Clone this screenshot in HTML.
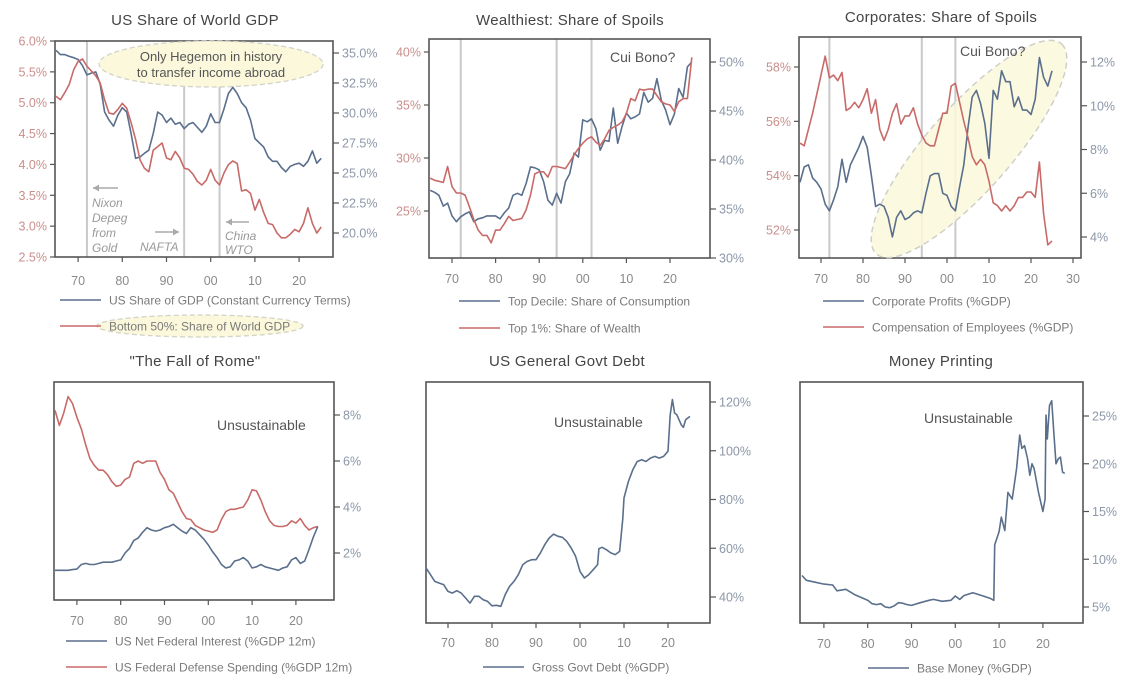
<!DOCTYPE html>
<html><head><meta charset="utf-8"><style>
html,body{margin:0;padding:0;background:#fff;}
svg{display:block;font-family:"Liberation Sans","DejaVu Sans",sans-serif;}
</style></head><body>
<svg id="chart" width="1138" height="690" viewBox="0 0 1138 690" xmlns="http://www.w3.org/2000/svg">
<g id="layer"></g>
</svg>
<script>
const yearsAnnual = [1965,1966,1967,1968,1969,1970,1971,1972,1973,1974,1975,1976,1977,1978,1979,1980,1981,1982,1983,1984,1985,1986,1987,1988,1989,1990,1991,1992,1993,1994,1995,1996,1997,1998,1999,2000,2001,2002,2003,2004,2005,2006,2007,2008,2009,2010,2011,2012,2013,2014,2015,2016,2017,2018,2019,2020,2021,2022,2023,2024,2025];
// Panel 1
const usShareGdp = [5.85,5.78,5.78,5.75,5.73,5.7,5.6,5.45,5.48,5.5,5.3,4.85,4.72,4.62,4.8,4.92,4.85,4.5,4.1,4.12,4.18,4.23,4.5,4.85,4.8,4.68,4.75,4.65,4.68,4.58,4.65,4.68,4.6,4.52,4.62,4.82,4.68,4.68,4.9,5.15,5.25,5.15,5.0,4.92,4.72,4.42,4.35,4.28,4.12,4.05,4.05,3.95,3.88,3.97,4.0,4.02,3.97,4.05,4.22,4.02,4.1];
const bottom50Share = [31.4,31.1,31.7,32.4,33.6,34.3,34.5,33.9,33.5,33.1,32.5,31.1,30.0,29.9,30.3,30.8,30.4,29.2,27.8,26.1,25.4,25.1,26.9,27.2,27.5,26.25,26.1,26.8,26.25,25.4,25.3,24.9,24.3,24.0,24.4,25.3,24.4,24.0,25.0,25.7,26.0,25.8,23.5,23.6,23.3,21.9,22.8,21.7,20.8,20.7,20.0,19.6,19.6,19.9,20.3,20.1,20.8,22.1,20.8,20.0,20.5];
// Panel 2
const topDecileConsumption = [36.9,36.7,36.4,35.3,35.6,34.3,33.7,34.2,34.5,34.7,33.7,34.0,34.1,34.3,34.3,34.3,34.0,34.6,35.1,36.4,36.6,36.4,37.6,39.3,39.2,39.0,37.8,35.9,35.4,36.6,35.6,37.8,38.6,40.7,40.3,44.1,43.9,44.2,43.2,41.0,42.0,41.9,45.3,41.7,43.4,44.8,44.2,44.4,44.7,46.9,45.9,46.3,48.3,46.1,45.1,43.6,44.7,47.3,46.4,49.5,50.0];
const top1Wealth = [28.1,27.9,27.8,27.7,29.2,27.3,26.7,26.7,26.5,25.4,24.2,23.2,22.7,22.7,22.0,23.2,23.2,23.8,24.5,24.1,24.2,24.3,25.1,26.5,28.5,28.7,28.7,28.2,29.2,29.2,29.1,29.0,29.6,30.3,30.9,31.4,31.8,32.0,31.5,31.2,31.8,32.6,32.9,33.1,33.4,34.2,35.6,35.4,36.5,36.4,36.5,36.5,35.9,35.3,35.1,35.0,34.4,35.3,35.6,35.6,39.5];
// Panel 3
const corpProfits = [6.5,7.2,7.3,6.7,6.5,6.2,5.5,5.2,5.7,6.3,7.55,6.5,7.3,7.7,8.1,8.6,8.1,6.8,5.4,5.5,5.4,4.9,4.0,4.9,5.2,4.8,4.9,5.1,5.2,5.1,6.0,6.8,6.9,6.9,6.0,5.9,5.4,5.2,6.3,7.3,9.0,10.4,10.7,10.1,9.2,7.6,10.7,10.3,11.6,11.1,11.1,9.95,10.4,9.8,9.8,9.6,10.3,12.2,11.3,10.9,11.6];
const employeeComp = [55.2,55.1,55.7,56.3,57.0,57.7,58.4,57.6,57.7,57.5,57.8,56.4,56.5,56.7,56.5,56.8,57.2,56.3,56.8,55.7,55.3,55.7,56.3,56.65,55.9,56.2,56.2,56.5,55.9,55.5,55.2,55.1,55.1,55.7,56.3,56.3,57.3,57.4,56.7,56.0,55.4,54.7,54.4,54.6,54.4,53.8,53.0,52.9,52.7,52.9,52.7,52.9,53.2,53.2,53.4,53.4,53.2,54.5,52.6,51.45,51.6];
// Panel 4
const defenseSpending = [8.2,7.55,8.1,8.8,8.5,7.9,7.4,6.7,6.1,5.8,5.6,5.6,5.4,5.1,4.9,4.95,5.2,5.3,5.9,6.0,5.9,6.0,6.0,6.0,5.5,5.2,4.75,4.6,4.2,3.8,3.5,3.45,3.2,3.1,3.0,2.95,2.9,3.0,3.45,3.8,3.9,3.9,3.95,4.0,4.3,4.75,4.7,4.3,3.8,3.4,3.2,3.15,3.15,3.2,3.4,3.3,3.5,3.2,3.0,3.1,3.15];
const netInterest = [1.25,1.25,1.25,1.25,1.28,1.3,1.5,1.55,1.5,1.5,1.55,1.6,1.6,1.6,1.65,1.7,2.0,2.2,2.55,2.65,2.9,3.1,3.0,2.95,3.0,3.1,3.15,3.25,3.1,2.95,2.85,3.1,3.0,2.8,2.6,2.35,2.05,1.8,1.5,1.35,1.4,1.65,1.7,1.8,1.65,1.35,1.4,1.5,1.4,1.35,1.3,1.25,1.35,1.4,1.7,1.8,1.55,1.65,2.15,2.7,3.15];
// Panel 5
const debtYears = [1965,1966,1967,1968,1969,1970,1971,1972,1973,1974,1975,1976,1977,1978,1979,1980,1981,1982,1983,1984,1985,1986,1987,1988,1989,1990,1991,1992,1993,1994,1995,1996,1997,1998,1999,2000,2001,2002,2003,2004,2004.3,2005,2006,2007,2008,2009,2009.7,2010,2011,2012,2013,2014,2015,2016,2017,2018,2019,2020,2020.5,2021,2021.5,2022,2023,2023.5,2024,2025];
const grossDebt = [51.9,49.2,46.4,45.7,45.1,42.3,41.6,42.6,41.6,39.6,37.5,40.3,40.3,38.9,38.2,36.4,36.6,36.2,41.0,44.4,46.4,49.2,53.3,54.6,55.3,55.3,58.1,61.5,64.2,65.8,64.9,64.5,62.8,60.1,56.7,50.5,47.8,49.2,51.2,53.3,59.8,60.4,59.4,58.1,57.4,58.7,71.7,80.6,87.4,92.2,95.6,96.3,95.6,97.0,97.7,97.0,97.7,99.8,114.8,121,115.5,114.8,110.7,109.6,112.7,114.1];
// Panel 6
const moneyYears = [1965,1966,1968,1970,1972,1973,1975,1977,1979,1980,1981,1982,1983,1984,1985,1986,1987,1988,1989,1990,1992,1994,1995,1997,1999,2000,2001,2002,2004,2006,2008,2008.8,2009,2010,2010.5,2011.3,2012,2013,2014,2014.7,2015.2,2015.8,2016.5,2017,2017.5,2018,2019,2020,2020.5,2020.7,2021,2021.5,2022,2022.5,2023,2023.5,2024,2024.5,2025];
const baseMoney = [8.3,7.8,7.6,7.4,7.3,6.7,6.85,6.3,5.9,5.7,5.35,5.25,5.35,5.0,4.93,5.1,5.45,5.4,5.25,5.17,5.45,5.7,5.8,5.6,5.7,6.15,5.8,6.2,6.5,6.2,5.9,5.7,11.5,12.9,14.4,13.0,17.0,16.3,19.5,23.0,21.6,21.9,20.5,18.8,20.0,19.5,17.0,15.0,16.3,25.1,22.6,26.1,26.6,23.3,20.0,20.5,20.7,19.1,19.0];

const xTicks = [1970,1980,1990,2000,2010,2020];
const xTickLabels = ['70','80','90','00','10','20'];
const eventYears = [1972,1994,2002];

const NS='http://www.w3.org/2000/svg';
const layer=document.getElementById('layer');
const BLUE='#5a6f8c', RED='#c86a68', AXC='#555';
function mk(tag,attrs,parent){const e=document.createElementNS(NS,tag);for(const k in attrs)e.setAttribute(k,attrs[k]);(parent||layer).appendChild(e);return e;}
function txt(s,x,y,attrs,parent){const e=mk('text',Object.assign({x:x,y:y},attrs),parent);e.textContent=s;return e;}

function xScale(p,yr){return p.x65+(yr-1965)*p.ppy;}
function yScale(ax,v){return ax.y0+(v-ax.v0)*(ax.y1-ax.y0)/(ax.v1-ax.v0);}

function panel(p){
  const g=mk('g',{});
  
  
  const t=txt(p.title,p.titleX,p.titleY,{'font-size':15,fill:'#444','text-anchor':'middle','letter-spacing':'0.3'},g);
  
  
  if(p.events){eventYears.forEach(yr=>{const l=mk('line',{x1:xScale(p,yr),x2:xScale(p,yr),y1:p.top,y2:p.bottom,stroke:'#c9c9c9','stroke-width':2},g);
    
    });}
  // box
  const b=mk('rect',{x:p.left,y:p.top,width:p.right-p.left,height:p.bottom-p.top,fill:'none',stroke:AXC,'stroke-width':1.6},g);
  
  
  // x ticks
  const xt=p.xt||xTicks, xl=p.xl||xTickLabels;
  xt.forEach((yr,i)=>{const x=xScale(p,yr);mk('line',{x1:x,x2:x,y1:p.bottom,y2:p.bottom+5,stroke:AXC,'stroke-width':1.2},g);
    const l=txt(xl[i],x,p.xLabelY,{'font-size':12.5,fill:'#8a8a8a','text-anchor':'middle'},g);
    
    });
  if(p.leftAxis){const a=p.leftAxis;a.ticks.forEach((v,i)=>{const y=yScale(a,v);mk('line',{x1:p.left-5,x2:p.left,y1:y,y2:y,stroke:AXC,'stroke-width':1.2},g);
    const l=txt(a.labels[i],p.left-8,y+4.5,{'font-size':12.5,fill:'#c98f8c','text-anchor':'end'},g);
    
    });}
  if(p.rightAxis){const a=p.rightAxis;a.ticks.forEach((v,i)=>{const y=yScale(a,v);mk('line',{x1:p.right,x2:p.right+6,y1:y,y2:y,stroke:AXC,'stroke-width':1.2},g);
    const l=txt(a.labels[i],p.right+9,y+4.5,{'font-size':12.5,fill:'#8c97a8'},g);
    
    });}
  return g;
}
function series(p,g,ax,xs,vs,color,name){
  let d='';xs.forEach((yr,i)=>{d+=(i?'L':'M')+xScale(p,yr).toFixed(1)+','+yScale(ax,vs[i]).toFixed(1);});
  const e=mk('path',{d:d,fill:'none',stroke:color,'stroke-width':1.6,'stroke-linejoin':'round'},g);
  
  
}
function legend(g,x,y,color,label,name){
  mk('line',{x1:x,x2:x+41,y1:y,y2:y,stroke:color,'stroke-width':1.6},g);
  const t=txt(label,x+49,y+4.5,{'font-size':12,fill:'#7a7a7a'},g);
  
  
}

// ---- Panel 1
const p1={name:'us-share-world-gdp-chart',title:'US Share of World GDP',titleX:195,titleY:25,left:55,right:333,top:41,bottom:257,x65:56,ppy:4.42,xLabelY:285,events:true,
 leftAxis:{y0:257,y1:41,v0:2.5,v1:6.0,ticks:[2.5,3,3.5,4,4.5,5,5.5,6],labels:['2.5%','3.0%','3.5%','4.0%','4.5%','5.0%','5.5%','6.0%']},
 rightAxis:{y0:257,y1:41,v0:18,v1:36,ticks:[20,22.5,25,27.5,30,32.5,35],labels:['20.0%','22.5%','25.0%','27.5%','30.0%','32.5%','35.0%']}};
const g1=panel(p1);
const e1=mk('ellipse',{cx:211,cy:64,rx:112,ry:23,fill:'#fbf8dc',stroke:'#d3d3c8','stroke-width':1.3,'stroke-dasharray':'5,3'},g1);


series(p1,g1,p1.leftAxis,yearsAnnual,usShareGdp,BLUE,'us-share-gdp-line');
series(p1,g1,p1.rightAxis,yearsAnnual,bottom50Share,RED,'bottom-50-share-line');
txt('Only Hegemon in history',211,61,{'font-size':13,fill:'#555','text-anchor':'middle'},g1);
txt('to transfer income abroad',211,77,{'font-size':13,fill:'#555','text-anchor':'middle'},g1);
const ann={'font-size':12,fill:'#999','font-style':'italic'};
['Nixon','Depeg','from','Gold'].forEach((s,i)=>txt(s,92,207+i*15,ann,g1));
txt('NAFTA',140,251,ann,g1);
txt('China',225,240,ann,g1);txt('WTO',225,254,ann,g1);
function arrow(g,x1,x2,y){mk('line',{x1:x1,x2:x2,y1:y,y2:y,stroke:'#aaa','stroke-width':1.5},g);const dir=x2>x1?1:-1;mk('path',{d:`M${x2},${y}l${-dir*6},-3.5v7z`,fill:'#aaa'},g);}
arrow(g1,118,93,188);arrow(g1,155,179,232);arrow(g1,249,226,222);
const e1b=mk('ellipse',{cx:200,cy:326,rx:103,ry:11,fill:'#fbf8dc',stroke:'#d3d3c8','stroke-width':1.3,'stroke-dasharray':'5,3'},g1);


legend(g1,60,300,BLUE,'US Share of GDP (Constant Currency Terms)','legend-us-share-gdp');
legend(g1,60,326,RED,'Bottom 50%: Share of World GDP','legend-bottom-50');

// ---- Panel 2
const p2={name:'wealthiest-share-chart',title:'Wealthiest: Share of Spoils',titleX:570,titleY:25,left:429,right:710,top:39,bottom:258,x65:430.2,ppy:4.36,xLabelY:283,events:true,
 leftAxis:{y0:211,y1:52,v0:25,v1:40,ticks:[25,30,35,40],labels:['25%','30%','35%','40%']},
 rightAxis:{y0:258,y1:62,v0:30,v1:50,ticks:[30,35,40,45,50],labels:['30%','35%','40%','45%','50%']}};
const g2=panel(p2);
series(p2,g2,p2.rightAxis,yearsAnnual,topDecileConsumption,BLUE,'top-decile-consumption-line');
series(p2,g2,p2.leftAxis,yearsAnnual,top1Wealth,RED,'top-1-wealth-line');
txt('Cui Bono?',610,62,{'font-size':14,fill:'#555'},g2);
legend(g2,459,301,BLUE,'Top Decile: Share of Consumption','legend-top-decile');
legend(g2,459,328,RED,'Top 1%: Share of Wealth','legend-top-1');

// ---- Panel 3
const p3={name:'corporates-share-chart',title:'Corporates: Share of Spoils',titleX:941,titleY:22,left:799,right:1081,top:37,bottom:258,x65:800,ppy:4.2,xLabelY:283,events:true,
 xt:[1970,1980,1990,2000,2010,2020,2030],xl:['70','80','90','00','10','20','30'],
 leftAxis:{y0:230,y1:67,v0:52,v1:58,ticks:[52,54,56,58],labels:['52%','54%','56%','58%']},
 rightAxis:{y0:237,y1:62,v0:4,v1:12,ticks:[4,6,8,10,12],labels:['4%','6%','8%','10%','12%']}};
const g3=panel(p3);
const e3=mk('ellipse',{cx:969,cy:149,rx:140,ry:42,transform:'rotate(-48.6 969 149)',fill:'#fbf8dc','fill-opacity':0.85,stroke:'#cfcfc8','stroke-width':1.5,'stroke-dasharray':'6,4'},g3);


series(p3,g3,p3.rightAxis,yearsAnnual,corpProfits,BLUE,'corporate-profits-line');
series(p3,g3,p3.leftAxis,yearsAnnual,employeeComp,RED,'employee-compensation-line');
txt('Cui Bono?',960,56,{'font-size':14,fill:'#555'},g3);
legend(g3,823,301,BLUE,'Corporate Profits (%GDP)','legend-corporate-profits');
legend(g3,823,327,RED,'Compensation of Employees (%GDP)','legend-employee-comp');

// ---- Panel 4
const p4={name:'fall-of-rome-chart',title:'"The Fall of Rome"',titleX:195,titleY:366,left:54,right:334,top:382,bottom:600,x65:55,ppy:4.38,xLabelY:625,
 rightAxis:{y0:553,y1:415,v0:2,v1:8,ticks:[2,4,6,8],labels:['2%','4%','6%','8%']}};
const g4=panel(p4);
series(p4,g4,p4.rightAxis,yearsAnnual,defenseSpending,RED,'defense-spending-line');
series(p4,g4,p4.rightAxis,yearsAnnual,netInterest,BLUE,'net-interest-line');
txt('Unsustainable',217,430,{'font-size':14,fill:'#555'},g4);
legend(g4,66,641,BLUE,'US Net Federal Interest (%GDP 12m)','legend-net-interest');
legend(g4,66,667,RED,'US Federal Defense Spending (%GDP 12m)','legend-defense');

// ---- Panel 5
const p5={name:'govt-debt-chart',title:'US General Govt Debt',titleX:567,titleY:366,left:426,right:710,top:382,bottom:623,x65:426,ppy:4.4,xLabelY:647,
 rightAxis:{y0:597,y1:402,v0:40,v1:120,ticks:[40,60,80,100,120],labels:['40%','60%','80%','100%','120%']}};
const g5=panel(p5);
series(p5,g5,p5.rightAxis,debtYears,grossDebt,BLUE,'gross-debt-line');
txt('Unsustainable',554,427,{'font-size':14,fill:'#555'},g5);
legend(g5,483,667,BLUE,'Gross Govt Debt (%GDP)','legend-gross-debt');

// ---- Panel 6
const p6={name:'money-printing-chart',title:'Money Printing',titleX:941,titleY:366,left:800,right:1083,top:382,bottom:623,x65:802,ppy:4.38,xLabelY:648,
 rightAxis:{y0:607,y1:416,v0:5,v1:25,ticks:[5,10,15,20,25],labels:['5%','10%','15%','20%','25%']}};
const g6=panel(p6);
series(p6,g6,p6.rightAxis,moneyYears,baseMoney,BLUE,'base-money-line');
txt('Unsustainable',924,423,{'font-size':14,fill:'#555'},g6);
legend(g6,868,668,BLUE,'Base Money (%GDP)','legend-base-money');
</script>
</body></html>
